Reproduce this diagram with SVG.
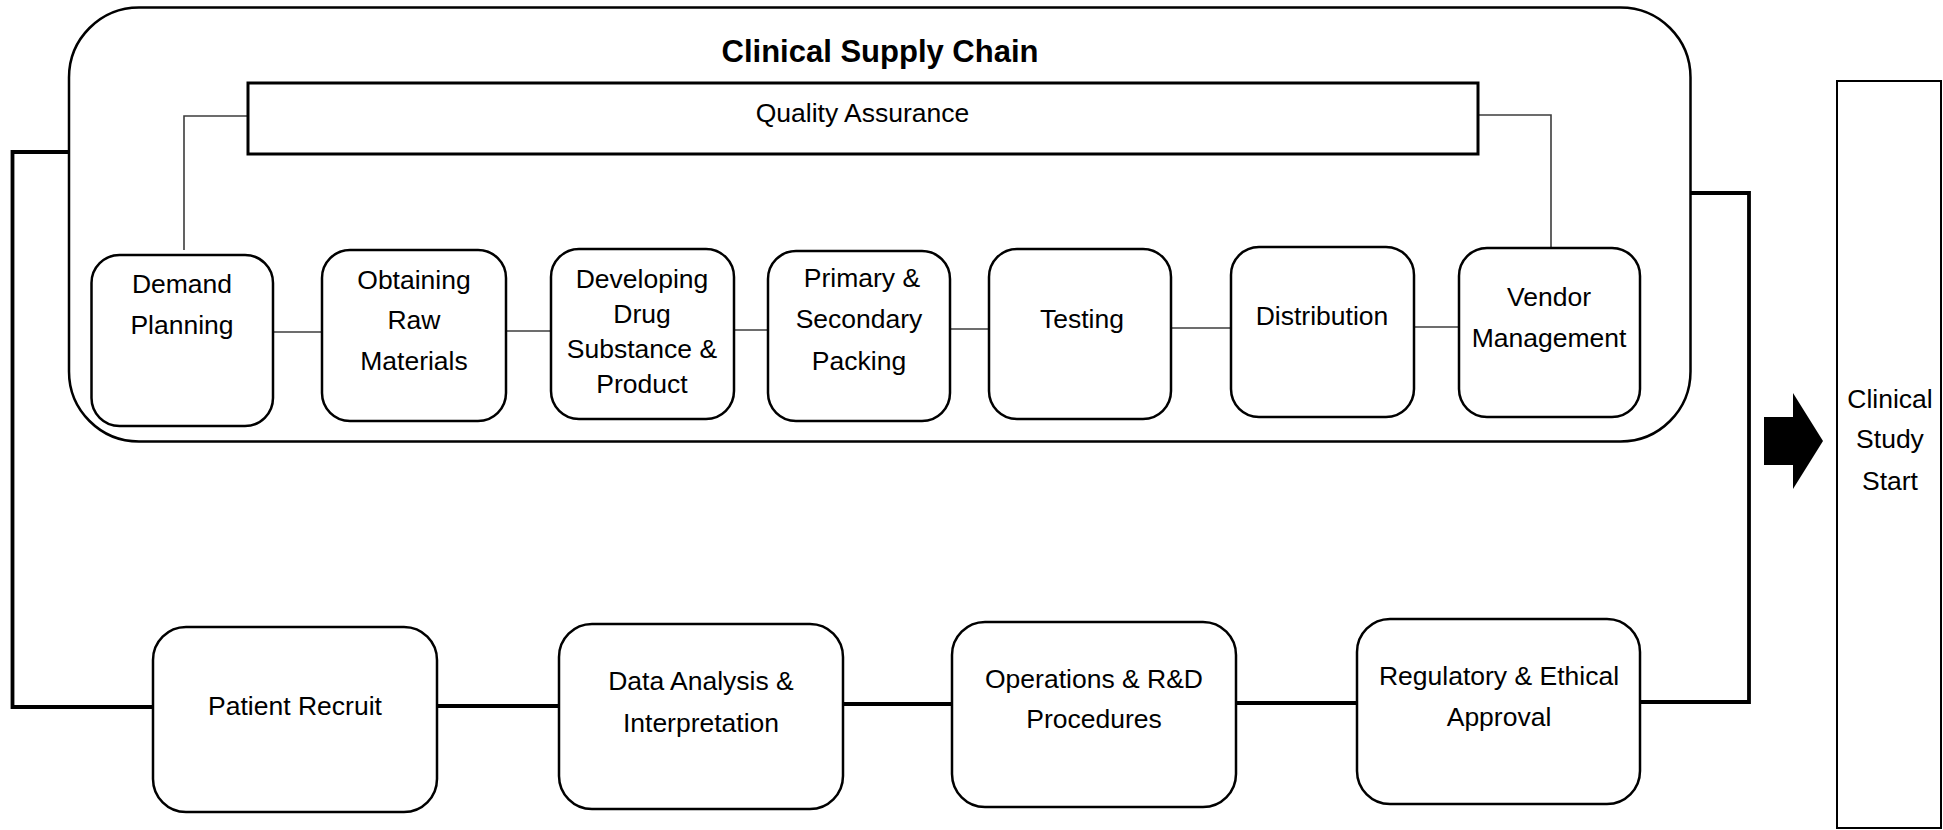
<svg xmlns="http://www.w3.org/2000/svg" width="1943" height="830" viewBox="0 0 1943 830">
<style>
  .box { fill: #ffffff; stroke: #000000; stroke-width: 2.5; }
  .thin { fill: none; stroke: #3c3c3c; stroke-width: 1.6; }
  .thick { fill: none; stroke: #000000; stroke-width: 3.8; stroke-linejoin: miter; }
  .t { font-family: "Liberation Sans", Arial, sans-serif; font-size: 26.5px; fill: #000000; text-anchor: middle; }
  .title { font-family: "Liberation Sans", Arial, sans-serif; font-size: 31px; font-weight: bold; fill: #000000; text-anchor: middle; }
</style>
<rect width="1943" height="830" fill="#ffffff"/>

<g id="container-clinical-supply-chain">
  <rect x="69" y="7.5" width="1621.5" height="434" rx="70" ry="70" fill="none" stroke="#000000" stroke-width="2.5"/>
  <text class="title" x="880" y="62">Clinical Supply Chain</text>
</g>

<g id="connectors">
  <polyline class="thin" points="248,116 184,116 184,250"/>
  <polyline class="thin" points="1478,115 1551,115 1551,248"/>
  <line class="thin" x1="273" y1="332" x2="322" y2="332"/>
  <line class="thin" x1="506" y1="331" x2="551" y2="331"/>
  <line class="thin" x1="734" y1="330" x2="768" y2="330"/>
  <line class="thin" x1="950" y1="329" x2="989" y2="329"/>
  <line class="thin" x1="1171" y1="328" x2="1231" y2="328"/>
  <line class="thin" x1="1414" y1="327" x2="1459" y2="327"/>
  <polyline class="thick" points="69,152 12.5,152 12.5,707 153,707"/>
  <line class="thick" x1="437" y1="706" x2="559" y2="706"/>
  <line class="thick" x1="843" y1="704" x2="952" y2="704"/>
  <line class="thick" x1="1236" y1="703" x2="1357" y2="703"/>
  <polyline class="thick" points="1640,702 1749,702 1749,193 1690,193"/>
</g>

<g id="quality-assurance">
  <rect x="248" y="83" width="1230" height="71" fill="#ffffff" stroke="#000000" stroke-width="3"/>
  <text class="t" x="862.5" y="122">Quality Assurance</text>
</g>

<g id="demand-planning">
  <rect class="box" x="91.5" y="255" width="181.5" height="171" rx="28"/>
  <text class="t" x="182" y="293">Demand</text>
  <text class="t" x="182" y="334">Planning</text>
</g>
<g id="obtaining-raw-materials">
  <rect class="box" x="322" y="250" width="184" height="171" rx="28"/>
  <text class="t" x="414" y="289">Obtaining</text>
  <text class="t" x="414" y="329">Raw</text>
  <text class="t" x="414" y="370">Materials</text>
</g>
<g id="developing-drug">
  <rect class="box" x="551" y="249" width="183" height="170" rx="28"/>
  <text class="t" x="642" y="288">Developing</text>
  <text class="t" x="642" y="323">Drug</text>
  <text class="t" x="642" y="358">Substance &amp;</text>
  <text class="t" x="642" y="393">Product</text>
</g>
<g id="primary-secondary-packing">
  <rect class="box" x="768" y="251" width="182" height="170" rx="28"/>
  <text class="t" x="862" y="287">Primary &amp;</text>
  <text class="t" x="859" y="328">Secondary</text>
  <text class="t" x="859" y="370">Packing</text>
</g>
<g id="testing">
  <rect class="box" x="989" y="249" width="182" height="170" rx="28"/>
  <text class="t" x="1082" y="328">Testing</text>
</g>
<g id="distribution">
  <rect class="box" x="1231" y="247" width="183" height="170" rx="28"/>
  <text class="t" x="1322" y="325">Distribution</text>
</g>
<g id="vendor-management">
  <rect class="box" x="1459" y="248" width="181" height="169" rx="28"/>
  <text class="t" x="1549" y="306">Vendor</text>
  <text class="t" x="1549" y="347">Management</text>
</g>

<g id="patient-recruit">
  <rect class="box" x="153" y="627" width="284" height="185" rx="33"/>
  <text class="t" x="295" y="715">Patient Recruit</text>
</g>
<g id="data-analysis">
  <rect class="box" x="559" y="624" width="284" height="185" rx="33"/>
  <text class="t" x="701" y="690">Data Analysis &amp;</text>
  <text class="t" x="701" y="732">Interpretation</text>
</g>
<g id="operations-rd">
  <rect class="box" x="952" y="622" width="284" height="185" rx="33"/>
  <text class="t" x="1094" y="688">Operations &amp; R&amp;D</text>
  <text class="t" x="1094" y="728">Procedures</text>
</g>
<g id="regulatory-ethical">
  <rect class="box" x="1357" y="619" width="283" height="185" rx="33"/>
  <text class="t" x="1499" y="685">Regulatory &amp; Ethical</text>
  <text class="t" x="1499" y="726">Approval</text>
</g>

<g id="block-arrow">
  <polygon points="1764,417 1793,417 1793,393 1823,441 1793,489 1793,465 1764,465" fill="#000000"/>
</g>

<g id="clinical-study-start">
  <rect x="1837" y="81" width="104" height="747" fill="#ffffff" stroke="#000000" stroke-width="2"/>
  <text class="t" x="1890" y="408">Clinical</text>
  <text class="t" x="1890" y="448">Study</text>
  <text class="t" x="1890" y="490">Start</text>
</g>
</svg>
